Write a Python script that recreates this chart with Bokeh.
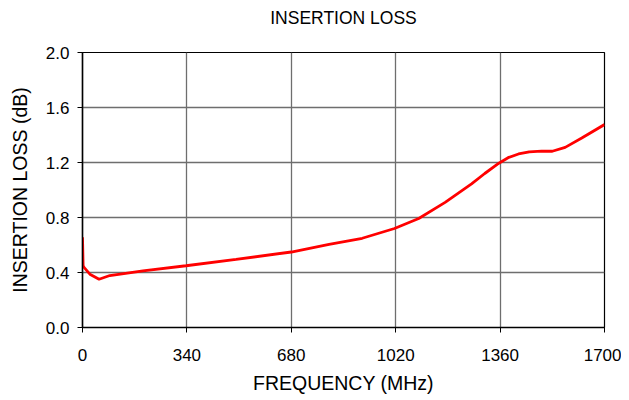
from bokeh.plotting import figure
from bokeh.models import Range1d, FixedTicker, NumeralTickFormatter, Title
from bokeh.embed import file_html
from bokeh.resources import INLINE

freq_mhz = [0, 2, 5, 24, 54, 89, 197, 337, 500, 680, 803, 911, 1016, 1095,
            1181, 1267, 1310, 1356, 1386, 1420, 1455, 1495, 1530, 1572, 1626, 1700]
loss_db = [0.656, 0.45, 0.437, 0.388, 0.351, 0.378, 0.412, 0.449, 0.495, 0.549,
           0.605, 0.649, 0.72, 0.793, 0.91, 1.044, 1.12, 1.195, 1.235, 1.262,
           1.278, 1.282, 1.282, 1.31, 1.378, 1.476]
x_ticks = [0, 340, 680, 1020, 1360, 1700]
y_ticks = [0.0, 0.4, 0.8, 1.2, 1.6, 2.0]
chart_title = "INSERTION LOSS"

FONT = "Liberation Sans"

p = figure(width=621, height=400, output_backend="svg", toolbar_location=None,
           x_range=Range1d(0, 1700), y_range=Range1d(0, 2.0),
           title=chart_title,
           min_border_left=82, min_border_right=17, min_border_top=0, min_border_bottom=73)

# real title (outermost panel)
p.title.align = "center"
p.title.vertical_align = "middle"
p.title.text_font = FONT
p.title.text_font_size = "17.5px"
p.title.text_font_style = "normal"
p.title.text_color = "#000000"
p.title.standoff = 13

# spacer between title and frame
p.add_layout(Title(text=" ", text_font_size="1px", standoff=14), "above")

p.line(freq_mhz, loss_db, line_color="#ff0000", line_width=2.8)

p.xaxis.ticker = FixedTicker(ticks=x_ticks)
p.yaxis.ticker = FixedTicker(ticks=y_ticks)
p.yaxis.formatter = NumeralTickFormatter(format="0.0")
p.xaxis.axis_label = "FREQUENCY (MHz)"
p.yaxis.axis_label = "INSERTION LOSS (dB)"

for ax in (p.xaxis, p.yaxis):
    ax.axis_label_text_font = FONT
    ax.axis_label_text_font_size = "19.5px"
    ax.axis_label_text_font_style = "normal"
    ax.axis_label_text_color = "#000000"
    ax.major_label_text_font = FONT
    ax.major_label_text_font_size = "17px"
    ax.major_label_text_color = "#000000"
    ax.axis_line_color = "#000000"
    ax.axis_line_width = 1.5
    ax.major_tick_line_color = "#000000"
    ax.major_tick_out = 5
    ax.major_tick_in = 0
    ax.minor_tick_line_color = None

p.xaxis.major_label_standoff = 16
p.xaxis.axis_label_standoff = 8
p.yaxis.major_label_standoff = 8
p.yaxis.axis_label_standoff = 12

p.xgrid.grid_line_color = "#6e6e6e"
p.ygrid.grid_line_color = "#6e6e6e"
p.xgrid.grid_line_width = 1.3
p.ygrid.grid_line_width = 1.3

p.outline_line_color = "#000000"
p.outline_line_width = 1.2

open("out.html", "w").write(file_html(p, INLINE))
